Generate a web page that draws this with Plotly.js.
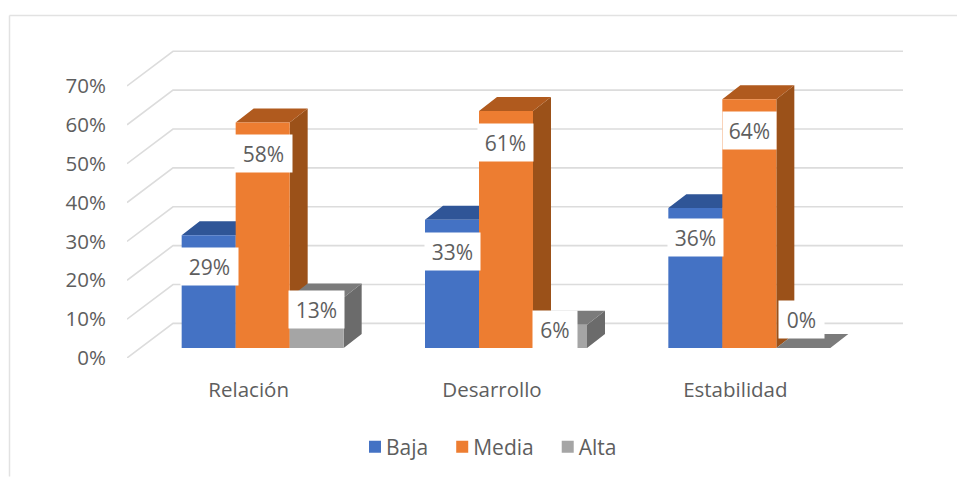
<!DOCTYPE html>
<html><head><meta charset="utf-8">
<script src="https://cdn.plot.ly/plotly-3.0.1.min.js"></script>
<style>html,body{margin:0;padding:0;background:#fff}#c{width:957px;height:478px}</style>
</head><body><div id="c"></div>
<script>
const categories = ['Relación', 'Desarrollo', 'Estabilidad'];
const baja  = [29, 33, 36];
const media = [58, 61, 64];
const alta  = [13, 6, 0];
const yTicks = [0, 10, 20, 30, 40, 50, 60, 70];
const seriesNames = ['Baja', 'Media', 'Alta'];

const frontColors = ['#4472c4', '#ed7d31', '#a5a5a5'];
const topColors   = ['#2f5597', '#b05a1e', '#7b7b7b'];
const sideColors  = ['#2a4c8a', '#9b5119', '#6b6b6b'];

// chart box in pixels
const W = 957, H = 478, L = 127, R = 54, T = 47, B = 119;
const xMax = (W - L - R) / 243.33, yMax = 80;
const pxX = (W - L - R) / xMax, pxY = (H - T - B) / yMax;
// perspective offsets, axis units
const wallDX = 46 / pxX, wallDY = 34.7 / pxY;
const barDX = 14 / pxX, barBase = 10 / pxY;
const depthX = 18 / pxX, depthY = 14 / pxY;
const barW = 54 / pxX;
// data label box centre, pixel offset from the bar's front-top-centre
const labelDX = [[1, 0, 0], [1, -0.5, 0], [0, -5.5, -2]];
const labelDY = [[31.5, 32, 29], [31, 32, 31], [12, 5, -28.5]];
const labelW = [[57, 55, 55], [57, 55, 53], [55, 44, 45]];

const all = [baja, media, alta];
const traces = [];

// gridlines: side wall then back wall
yTicks.forEach(v => traces.push({
  type: 'scatter', mode: 'lines', x: [0, wallDX, xMax], y: [v, v + wallDY, v + wallDY],
  line: {color: '#dcdcdc', width: 1.6}, showlegend: false, hoverinfo: 'skip', cliponaxis: false, zorder: 0
}));

const barX = (c, s) => c + 0.5 + barDX + (s - 1) * barW;

all.forEach((vals, s) => {
  const sx = [], sy = [], tx = [], ty = [];
  vals.forEach((v, c) => {
    const xl = barX(c, s) - barW / 2, xr = xl + barW, top = barBase + v;
    sx.push(xr, xr + depthX, xr + depthX, xr, null);
    sy.push(barBase, barBase + depthY, top + depthY, top, null);
    tx.push(xl, xl + depthX, xr + depthX, xr, null);
    ty.push(top, top + depthY, top + depthY, top, null);
  });
  traces.push({type: 'scatter', mode: 'none', x: sx, y: sy, fill: 'toself', fillcolor: sideColors[s],
    showlegend: false, hoverinfo: 'skip', zorder: 1 + s * 2});
  traces.push({type: 'scatter', mode: 'none', x: tx, y: ty, fill: 'toself', fillcolor: topColors[s],
    showlegend: false, hoverinfo: 'skip', zorder: 1 + s * 2});
  traces.push({type: 'bar', name: seriesNames[s], x: vals.map((_, c) => barX(c, s)), y: vals,
    base: vals.map(() => barBase), width: barW, marker: {color: frontColors[s], line: {width: 0}},
    hoverinfo: 'skip', zorder: 2 + s * 2});
});

const font = 'Open Sans, sans-serif';
const annotations = [];
all.forEach((vals, s) => vals.forEach((v, c) => annotations.push({
  xref: 'x', yref: 'y', x: barX(c, s), y: barBase + v, xshift: labelDX[s][c], yshift: -labelDY[s][c],
  text: v + '%', showarrow: false, bgcolor: '#ffffff', borderpad: 0, width: labelW[s][c], height: 37,
  xanchor: 'center', yanchor: 'middle', align: 'center', valign: 'middle',
  font: {family: font, size: 21, color: '#5e5e5e'}
})));

const px = x => (x - L) / (W - L - R), py = y => 1 - (y - T) / (H - T - B);
const frameColor = '#e2e2e2';
const layout = {
  width: W, height: H, margin: {l: L, r: R, t: T, b: B},
  paper_bgcolor: '#fff', plot_bgcolor: 'rgba(0,0,0,0)',
  barmode: 'overlay', showlegend: true,
  xaxis: {range: [0, xMax], tickmode: 'array', tickvals: categories.map((_, i) => i + 0.5), ticktext: categories,
    showgrid: false, zeroline: false, showline: false, ticks: '', ticklabelstandoff: 17,
    tickfont: {family: font, size: 20.5, color: '#5e5e5e'}},
  yaxis: {range: [0, yMax], tickmode: 'array', tickvals: yTicks, ticktext: yTicks.map(v => v + '%'),
    showgrid: false, zeroline: false, showline: false, ticks: '', ticklabelstandoff: 20,
    tickfont: {family: font, size: 20.5, color: '#5e5e5e'}},
  legend: {orientation: 'h', xref: 'paper', yref: 'paper', x: px(484), xanchor: 'center', y: py(447), yanchor: 'middle',
    font: {family: font, size: 21, color: '#5e5e5e'}, itemwidth: 30, bgcolor: 'rgba(0,0,0,0)'},
  shapes: [
    {type: 'line', xref: 'paper', yref: 'paper', x0: px(9.5), x1: px(9.5), y0: py(15.5), y1: py(478), line: {color: frameColor, width: 1.5}, layer: 'below'},
    {type: 'line', xref: 'paper', yref: 'paper', x0: px(9.5), x1: px(957), y0: py(15.5), y1: py(15.5), line: {color: frameColor, width: 1.5}, layer: 'below'}
  ],
  annotations
};
Plotly.newPlot('c', traces, layout, {displayModeBar: false, responsive: false}).then(() => {
  // tuck legend swatches closer to their labels, as in the original
  document.querySelectorAll('.legend .legendpoints').forEach(g => g.setAttribute('transform', 'translate(9,0)'));
});
</script></body></html>
